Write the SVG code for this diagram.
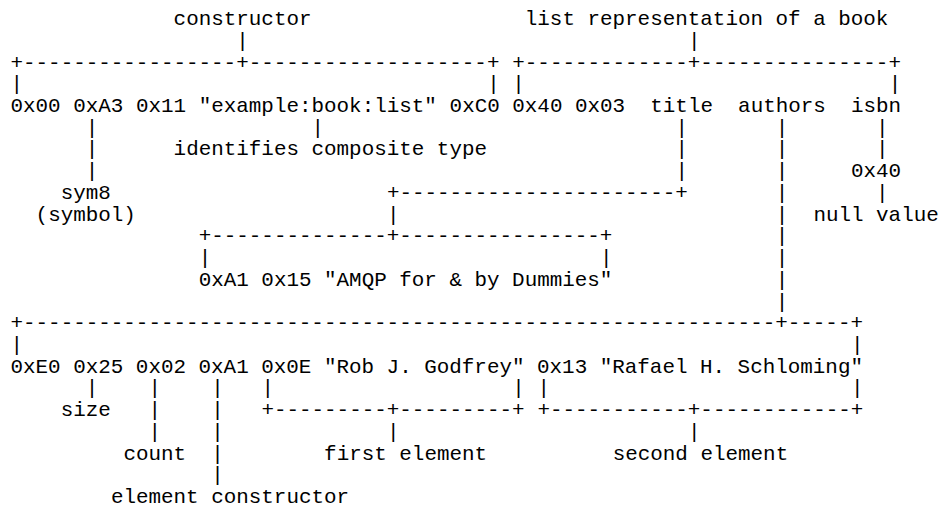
<svg xmlns="http://www.w3.org/2000/svg" width="940" height="508" viewBox="0 0 940 508">
<style>
text { font-family: "Liberation Mono", "DejaVu Sans Mono", monospace; font-size: 20.9px; fill: #000; white-space: pre; }
</style>
<rect width="940" height="508" fill="#fff"/>
<g id="connectors">
  <text x="236.3" y="46.7">|</text>
  <text x="687.9" y="46.7">|</text>
  <text x="10.5" y="68.5">+-----------------+-------------------+</text>
  <text x="512.3" y="68.5">+-------------+---------------+</text>
  <text x="10.5" y="90.2">|</text>
  <text x="487.2" y="90.2">|</text>
  <text x="512.3" y="90.2">|</text>
  <text x="888.7" y="90.2">|</text>
  <text x="85.8" y="133.7">|</text>
  <text x="311.6" y="133.7">|</text>
  <text x="675.4" y="133.7">|</text>
  <text x="775.7" y="133.7">|</text>
  <text x="876.1" y="133.7">|</text>
  <text x="85.8" y="155.4">|</text>
  <text x="675.4" y="155.4">|</text>
  <text x="775.7" y="155.4">|</text>
  <text x="876.1" y="155.4">|</text>
  <text x="85.8" y="177.1">|</text>
  <text x="675.4" y="177.1">|</text>
  <text x="775.7" y="177.1">|</text>
  <text x="386.9" y="198.8">+----------------------+</text>
  <text x="775.7" y="198.8">|</text>
  <text x="876.1" y="198.8">|</text>
  <text x="386.9" y="220.6">|</text>
  <text x="775.7" y="220.6">|</text>
  <text x="198.7" y="242.3">+--------------+----------------+</text>
  <text x="775.7" y="242.3">|</text>
  <text x="198.7" y="264">|</text>
  <text x="600.1" y="264">|</text>
  <text x="775.7" y="264">|</text>
  <text x="775.7" y="285.8">|</text>
  <text x="775.7" y="307.5">|</text>
  <text x="10.5" y="329.2">+------------------------------------------------------------+-----+</text>
  <text x="10.5" y="351">|</text>
  <text x="851.0" y="351">|</text>
  <text x="85.8" y="394.4">|</text>
  <text x="148.5" y="394.4">|</text>
  <text x="211.2" y="394.4">|</text>
  <text x="261.4" y="394.4">|</text>
  <text x="512.3" y="394.4">|</text>
  <text x="537.4" y="394.4">|</text>
  <text x="851.0" y="394.4">|</text>
  <text x="148.5" y="416.1">|</text>
  <text x="211.2" y="416.1">|</text>
  <text x="261.4" y="416.1">+---------+---------+</text>
  <text x="537.4" y="416.1">+-----------+------------+</text>
  <text x="148.5" y="437.9">|</text>
  <text x="211.2" y="437.9">|</text>
  <text x="386.9" y="437.9">|</text>
  <text x="687.9" y="437.9">|</text>
  <text x="211.2" y="459.6">|</text>
  <text x="211.2" y="481.3">|</text>
</g>
<g id="label-constructor"><text x="173.6" y="25">constructor</text></g>
<g id="label-list-repr"><text x="524.8" y="25">list representation of a book</text></g>
<g id="b-0x00"><text x="10.5" y="111.9">0x00</text></g>
<g id="b-0xA3"><text x="73.2" y="111.9">0xA3</text></g>
<g id="b-0x11"><text x="136.0" y="111.9">0x11</text></g>
<g id="b-descriptor"><text x="198.7" y="111.9">"example:book:list"</text></g>
<g id="b-0xC0"><text x="449.6" y="111.9">0xC0</text></g>
<g id="b-0x40"><text x="512.3" y="111.9">0x40</text></g>
<g id="b-0x03"><text x="575.0" y="111.9">0x03</text></g>
<g id="f-title"><text x="650.3" y="111.9">title</text></g>
<g id="f-authors"><text x="738.1" y="111.9">authors</text></g>
<g id="f-isbn"><text x="851.0" y="111.9">isbn</text></g>
<g id="label-identifies"><text x="173.6" y="155.4">identifies composite type</text></g>
<g id="isbn-0x40"><text x="851.0" y="177.1">0x40</text></g>
<g id="label-sym8"><text x="60.7" y="198.8">sym8</text><text x="35.6" y="220.6">(symbol)</text></g>
<g id="label-null"><text x="813.4" y="220.6">null value</text></g>
<g id="title-value"><text x="198.7" y="285.8">0xA1 0x15 "AMQP for &amp; by Dummies"</text></g>
<g id="authors-value"><text x="10.5" y="372.7">0xE0 0x25 0x02 0xA1 0x0E "Rob J. Godfrey" 0x13 "Rafael H. Schloming"</text></g>
<g id="label-size"><text x="60.7" y="416.1">size</text></g>
<g id="label-count"><text x="123.4" y="459.6">count</text></g>
<g id="label-first"><text x="324.1" y="459.6">first element</text></g>
<g id="label-second"><text x="612.7" y="459.6">second element</text></g>
<g id="label-elem-ctor"><text x="110.9" y="503.1">element constructor</text></g>
</svg>
